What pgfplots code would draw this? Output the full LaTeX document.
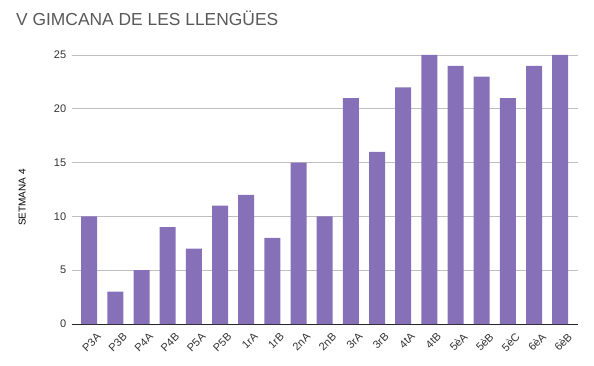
\documentclass[border=0pt]{standalone}
\usepackage{pgfplots}
\pgfplotsset{compat=1.18}
\usepackage{fontspec}
\setmainfont{Liberation Sans}
\definecolor{barc}{HTML}{8671B9}
\definecolor{titlec}{HTML}{595959}
\definecolor{tickc}{HTML}{333333}
\begin{document}
\begin{tikzpicture}[x=1bp,y=1bp]
\path[use as bounding box] (0,0) rectangle (594,365);
\node[anchor=base west, text=titlec, font=\fontsize{17.4bp}{20bp}\selectfont, inner sep=0pt] at (16,340) {V GIMCANA DE LES LLENGÜES};
\begin{axis}[
  at={(71.7bp,41bp)}, anchor=south west,
  scale only axis, width=506bp, height=269bp,
  ymin=0, ymax=25, xmin=-0.67, xmax=18.67,
  ytick={0,5,10,15,20,25},
  xtick={0,...,18},
  xticklabels={P3A,P3B,P4A,P4B,P5A,P5B,1rA,1rB,2nA,2nB,3rA,3rB,4tA,4tB,5èA,5èB,5èC,6èA,6èB},
  axis x line*=bottom, axis y line*=left,
  y axis line style={draw=none},
  x axis line style={-, draw=black!85, line width=0.8pt},
  major tick length=0pt,
  ymajorgrids, grid style={draw=black!25, line width=0.6pt},
  /pgf/number format/assume math mode=true,
  yticklabel style={font=\fontsize{11bp}{13bp}\selectfont, text=tickc, xshift=-2bp},
  xticklabel style={font=\fontsize{11bp}{13bp}\selectfont, text=tickc, xshift=7bp, yshift=-8bp, rotate=45, anchor=north east, inner sep=0pt},
  ylabel={SETMANA 4},
  ylabel style={font=\fontsize{11bp}{13bp}\selectfont, text=black},
  every axis y label/.style={at={(axis description cs:-0.098,0.47)}, rotate=90, anchor=center},
  ybar, bar width=16bp,
]
\addplot[fill=barc, draw=none] coordinates {
(0,10) (1,3) (2,5) (3,9) (4,7) (5,11) (6,12) (7,8) (8,15) (9,10)
(10,21) (11,16) (12,22) (13,25) (14,24) (15,23) (16,21) (17,24) (18,25)};
\end{axis}
\end{tikzpicture}
\end{document}
